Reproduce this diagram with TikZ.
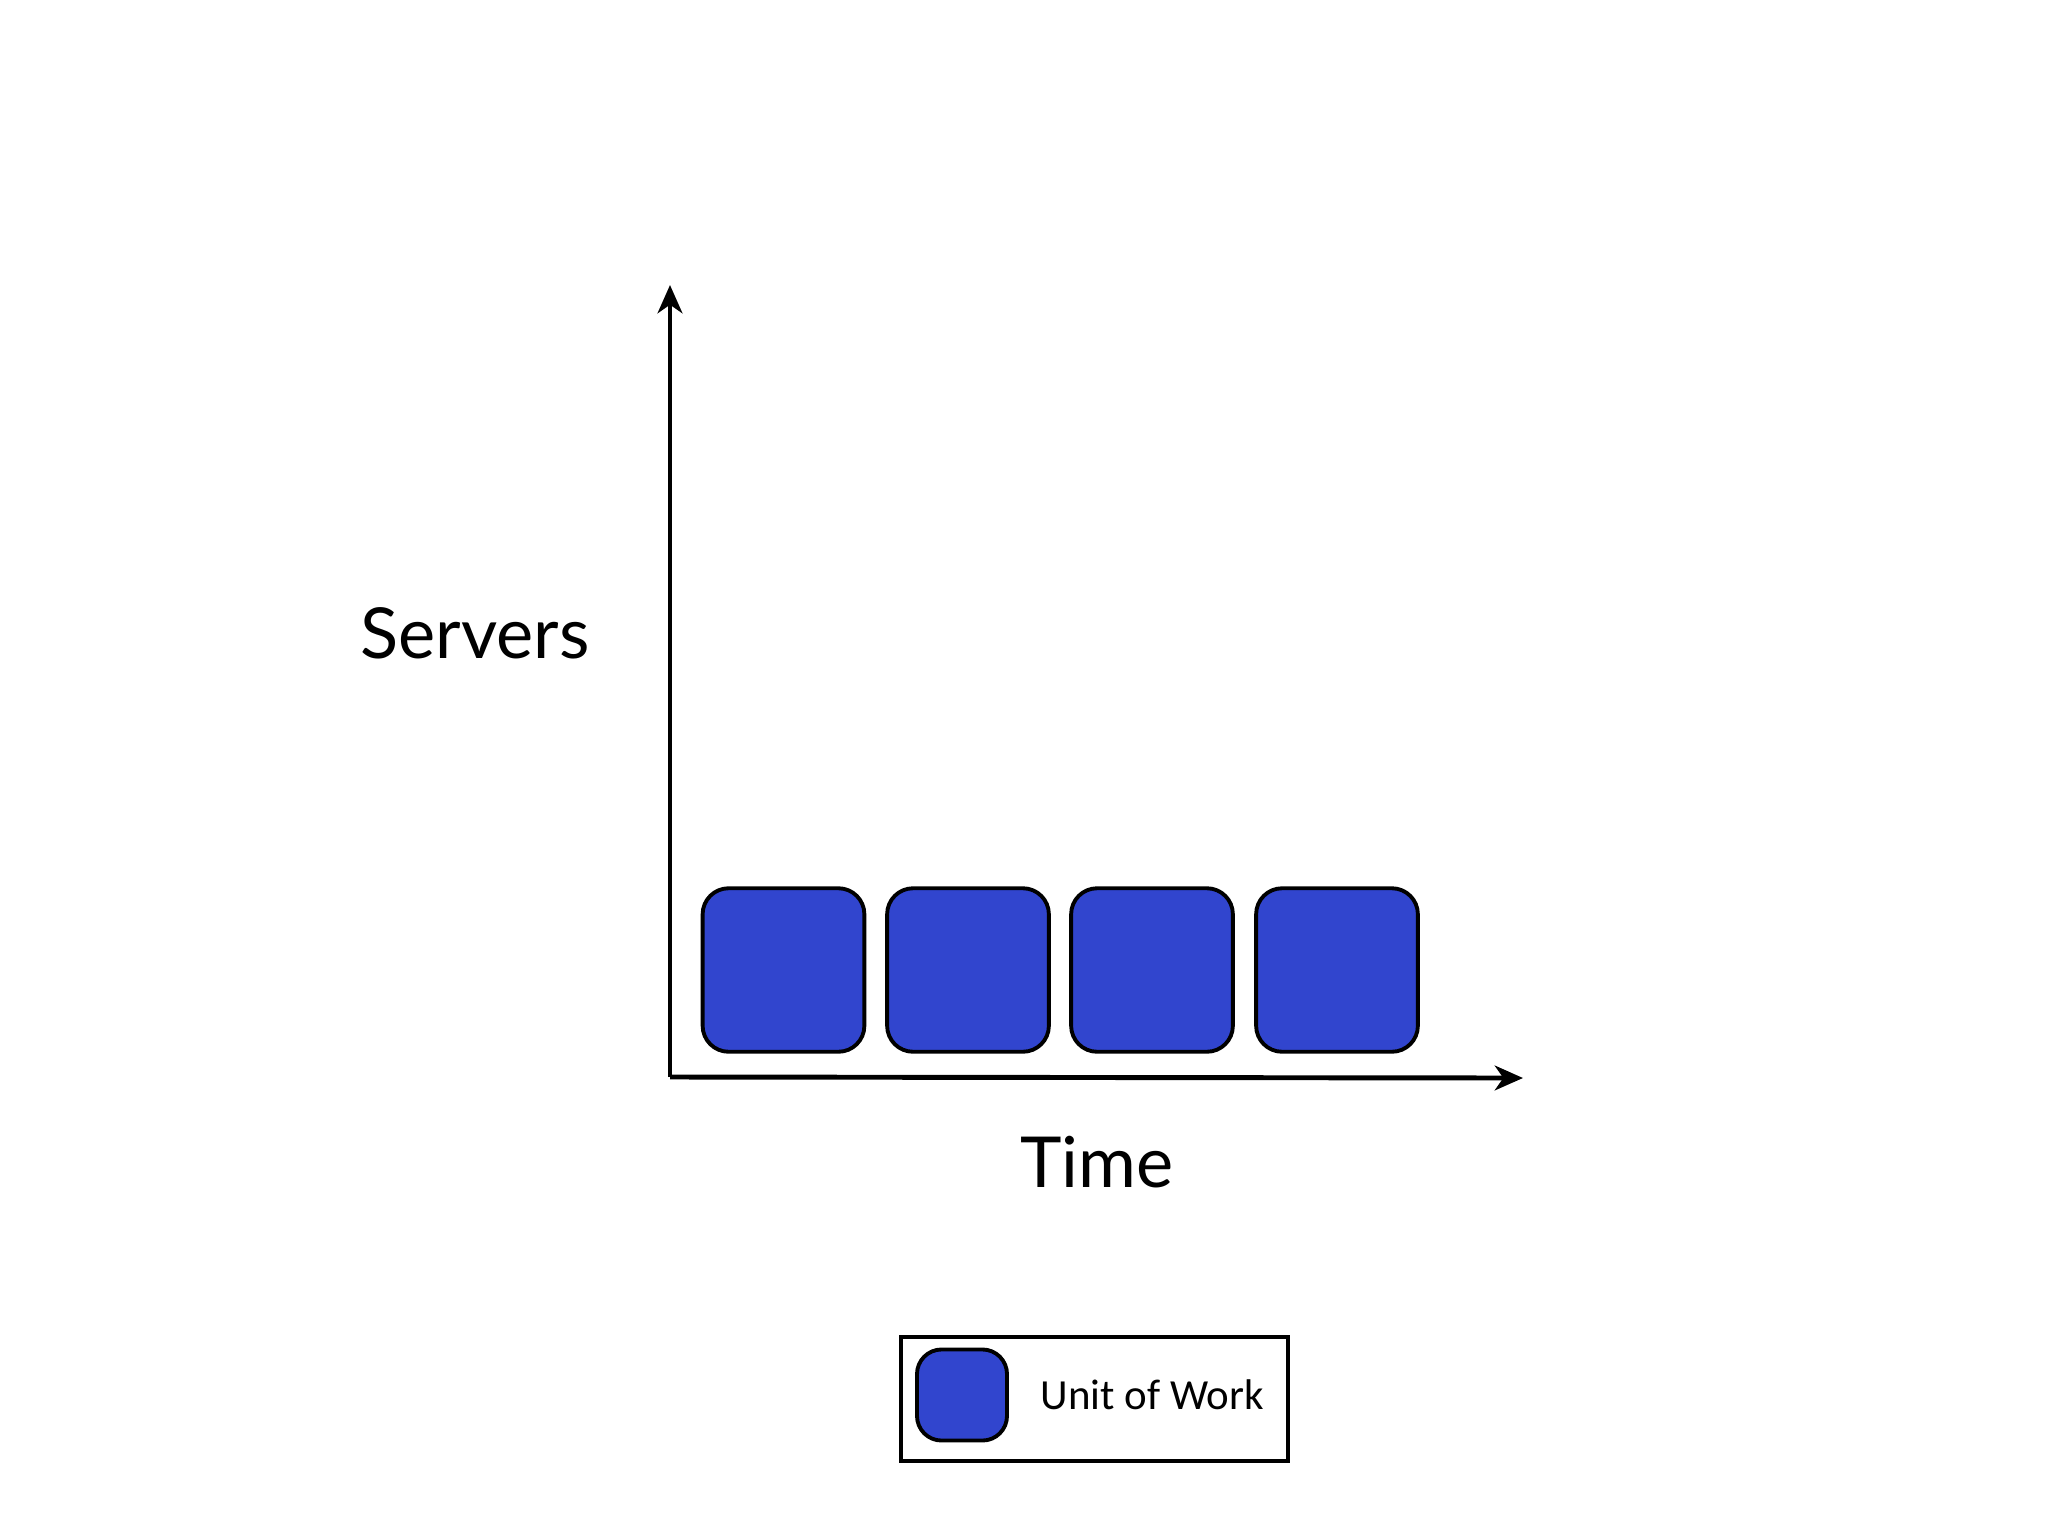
\documentclass[tikz,border=0pt]{standalone}
\usepackage{fontspec}
\setmainfont{Lato}
\newfontfamily\legendfont{Carlito}
\usetikzlibrary{arrows.meta}
\definecolor{workblue}{RGB}{49,69,206}
\tikzset{
  work/.style={draw=black, line width=1.1pt, fill=workblue, rounded corners=7.4pt,
    minimum width=46pt, minimum height=46.5pt, inner sep=0pt},
  axis/.style={line width=1.4pt, -{Stealth[length=8pt, width=7pt, inset=2.4pt]}},
  axislabel/.style={font=\fontsize{20}{24}\selectfont}
}
\begin{document}
\begin{tikzpicture}[x=0.01cm, y=-0.01cm]
    \useasboundingbox (0,0) rectangle (2048,1536);
    \coordinate (origin) at (670,1077);
    \coordinate (ytip) at (670,285);
    \coordinate (xtip) at (1523,1078);
    \draw[axis] (origin) -- (ytip);
    \draw[axis] (origin) -- (xtip);
    \node[axislabel] (servers) at (475,633) {Servers};
    \node[axislabel] (time) at (1097,1162) {Time};
    \foreach \i/\x in {1/783.5,2/968,3/1152,4/1337} {
      \node[work] (unit\i) at (\x,970) {};
    }

    \draw[line width=1.2pt] (901,1337) rectangle (1288,1461);
    \node[work, minimum width=25.6pt, minimum height=25.9pt, rounded corners=7pt] (key) at (962,1395) {};
    \node[font=\legendfont\fontsize{12.2}{15}\selectfont, anchor=west, inner sep=0pt] (keytext) at (1040,1395) {Unit of Work};
  \end{tikzpicture}
\end{document}
